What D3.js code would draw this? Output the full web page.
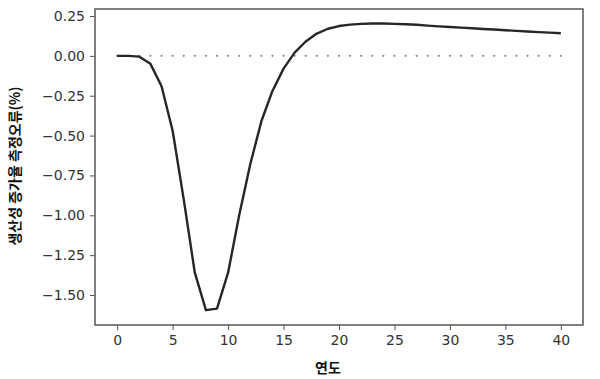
<!DOCTYPE html>
<html><head><meta charset="utf-8">
<script src="https://cdn.jsdelivr.net/npm/d3@7"></script>
<style>body{margin:0;background:#fff;} svg{display:block;}</style>
</head><body>
<svg id="c" width="600" height="379"></svg>
<script>
const years = d3.range(0, 41);
const errorPct = [0.0, 0.0, -0.005, -0.05, -0.19, -0.47, -0.90, -1.36, -1.595, -1.585,
  -1.36, -1.00, -0.68, -0.41, -0.22, -0.08, 0.02, 0.09, 0.14, 0.17,
  0.187, 0.196, 0.201, 0.203, 0.203, 0.201, 0.198, 0.195, 0.19, 0.185,
  0.181, 0.177, 0.173, 0.169, 0.165, 0.161, 0.157, 0.153, 0.149, 0.146, 0.142];
const zeroLine = years.map(() => 0);
const xTicks = [0, 5, 10, 15, 20, 25, 30, 35, 40];
const yTicks = [0.25, 0.00, -0.25, -0.50, -0.75, -1.00, -1.25, -1.50];
const xLabel = "연도";
const yLabel = "생산성 증가율 측정오류(%)";

const L = 95, R = 583, T = 9, B = 325;
const svg = d3.select("#c");
const x = d3.scaleLinear().domain([-2, 42]).range([L, R]);
const y = d3.scaleLinear().domain([-1.688, 0.294]).range([B, T]);

// dotted zero reference
svg.append("g").selectAll("circle").data(years).join("circle")
  .attr("cx", d => x(d)).attr("cy", (d, i) => y(zeroLine[i]))
  .attr("r", 1.1).attr("fill", "#8a8a8a");

// main line
svg.append("path").datum(years)
  .attr("fill", "none").attr("stroke", "#262626").attr("stroke-width", 2.4)
  .attr("stroke-linejoin", "round")
  .attr("d", d3.line().x(d => x(d)).y((d, i) => y(errorPct[i])));

// axes
const font = "DejaVu Sans, sans-serif";
const xa = svg.append("g").attr("transform", `translate(0,${B})`)
  .call(d3.axisBottom(x).tickValues(xTicks).tickSize(5).tickPadding(5).tickFormat(d3.format("d")));
const ya = svg.append("g").attr("transform", `translate(${L},0)`)
  .call(d3.axisLeft(y).tickValues(yTicks).tickSize(5).tickPadding(5).tickFormat(d => d3.format(".2f")(d).replace("-", "\u2212")));
[xa, ya].forEach(a => {
  a.select(".domain").remove();
  a.selectAll("line").attr("stroke", "#555").attr("stroke-width", 1);
  a.selectAll("text").attr("fill", "#333").style("font-family", font).style("font-size", "14px");
});

// frame
svg.append("rect").attr("x", L).attr("y", T).attr("width", R - L).attr("height", B - T)
  .attr("fill", "none").attr("stroke", "#555").attr("stroke-width", 1.5);

svg.append("text").attr("x", 328).attr("y", 373).attr("text-anchor", "middle")
  .style("font-family", "Noto Sans CJK KR").style("font-weight", "bold").style("font-size", "14px")
  .attr("fill", "#111").text(xLabel);
svg.append("text").attr("transform", "translate(20,166) rotate(-90)").attr("text-anchor", "middle")
  .style("font-family", "Noto Sans CJK KR").style("font-weight", "bold").style("font-size", "14px")
  .attr("fill", "#111").text(yLabel);
</script>
</body></html>
